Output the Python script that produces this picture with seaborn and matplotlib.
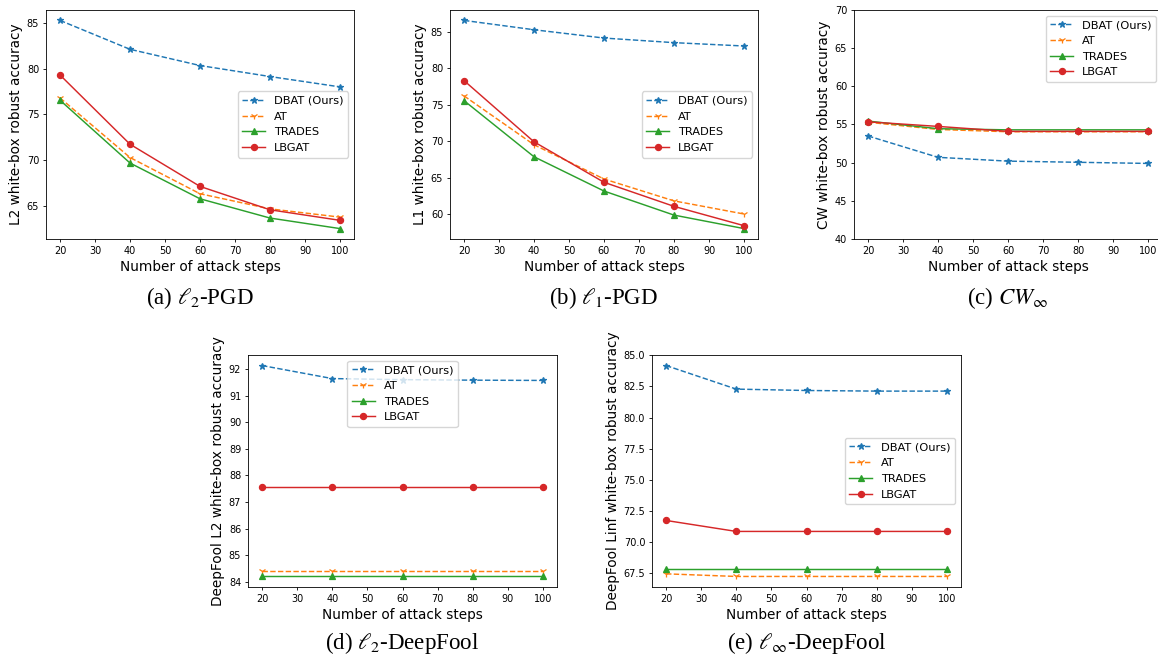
import matplotlib
matplotlib.use("Agg")
import matplotlib.pyplot as plt
from matplotlib.ticker import MultipleLocator
import pandas as pd
import seaborn as sns

# ---------------- data ----------------
steps = [20, 40, 60, 80, 100]
methods = ["DBAT (Ours)", "AT", "TRADES", "LBGAT"]

# (a) L2-PGD
l2pgd_dbat = [85.25, 82.1, 80.33, 79.13, 78.0]
l2pgd_at = [76.8, 70.3, 66.35, 64.7, 63.8]
l2pgd_trades = [76.55, 69.7, 65.8, 63.7, 62.55]
l2pgd_lbgat = [79.3, 71.75, 67.15, 64.6, 63.45]

# (b) L1-PGD
l1pgd_dbat = [86.55, 85.27, 84.13, 83.5, 83.04]
l1pgd_at = [76.2, 69.5, 64.8, 61.8, 60.0]
l1pgd_trades = [75.55, 67.85, 63.15, 59.85, 58.0]
l1pgd_lbgat = [78.3, 69.9, 64.35, 61.05, 58.4]

# (c) CW-inf
cw_dbat = [53.5, 50.7, 50.2, 50.05, 49.9]
cw_at = [55.3, 54.35, 54.05, 54.05, 54.05]
cw_trades = [55.45, 54.45, 54.3, 54.3, 54.3]
cw_lbgat = [55.35, 54.75, 54.1, 54.1, 54.1]

# (d) L2-DeepFool
dfl2_dbat = [92.13, 91.64, 91.6, 91.58, 91.57]
dfl2_at = [84.42, 84.42, 84.42, 84.42, 84.42]
dfl2_trades = [84.2, 84.2, 84.2, 84.2, 84.2]
dfl2_lbgat = [87.56, 87.56, 87.56, 87.56, 87.56]

# (e) Linf-DeepFool
dfinf_dbat = [84.17, 82.28, 82.17, 82.12, 82.12]
dfinf_at = [67.47, 67.26, 67.26, 67.26, 67.26]
dfinf_trades = [67.82, 67.82, 67.82, 67.82, 67.82]
dfinf_lbgat = [71.75, 70.87, 70.87, 70.87, 70.87]

ylabels = [
    "L2 white-box robust accuracy",
    "L1 white-box robust accuracy",
    "CW white-box robust accuracy",
    "DeepFool L2 white-box robust accuracy",
    "DeepFool Linf white-box robust accuracy",
]
captions = [
    r"(a) $\ell_2$-PGD",
    r"(b) $\ell_1$-PGD",
    r"(c) $CW_\infty$",
    r"(d) $\ell_2$-DeepFool",
    r"(e) $\ell_\infty$-DeepFool",
]
panels = [
    [l2pgd_dbat, l2pgd_at, l2pgd_trades, l2pgd_lbgat],
    [l1pgd_dbat, l1pgd_at, l1pgd_trades, l1pgd_lbgat],
    [cw_dbat, cw_at, cw_trades, cw_lbgat],
    [dfl2_dbat, dfl2_at, dfl2_trades, dfl2_lbgat],
    [dfinf_dbat, dfinf_at, dfinf_trades, dfinf_lbgat],
]

# ---------------- style ----------------
plt.rcParams.update({
    "font.family": ["DejaVu Sans"],
    "mathtext.fontset": "stix",
    "axes.linewidth": 0.6,
    "xtick.major.width": 0.6,
    "ytick.major.width": 0.6,
    "xtick.major.size": 2.5,
    "ytick.major.size": 2.5,
    "xtick.major.pad": 2.4,
    "ytick.major.pad": 2.4,
    "xtick.labelsize": 7,
    "ytick.labelsize": 7,
    "axes.labelsize": 9.8,
    "axes.labelpad": 2.8,
    "legend.fontsize": 8.2,
})

palette = sns.color_palette("tab10")
styles = {
    "DBAT (Ours)": dict(color=palette[0], linestyle="--", marker="*", markersize=5.0),
    "AT": dict(color=palette[1], linestyle="--", marker="1", markersize=5.0),
    "TRADES": dict(color=palette[2], linestyle="-", marker="^", markersize=4.4),
    "LBGAT": dict(color=palette[3], linestyle="-", marker="o", markersize=4.4),
}

W, H = 1158, 659
fig = plt.figure(figsize=(W / 100, H / 100), dpi=100)

# axes boxes in pixels: (left, top, right, bottom)
boxes = [
    (46, 10, 354, 239),
    (450, 10, 758, 239),
    (854, 10, 1162, 239),
    (248, 355, 557, 587),
    (652, 355, 961, 587),
]
caption_y = [298, 298, 298, 643, 643]
legend_loc = ["center right", "center right", "upper right", "upper center", "center right"]
ylocs = [5, 5, 5, 1, 2.5]

for i, (box, series) in enumerate(zip(boxes, panels)):
    l, t, r, b = box
    ax = fig.add_axes([l / W, 1 - b / H, (r - l) / W, (b - t) / H])
    df = pd.DataFrame({"steps": steps * len(methods),
                       "acc": sum(series, []),
                       "method": [m for m in methods for _ in steps]})
    for m in methods:
        st = styles[m]
        sub = df[df["method"] == m]
        sns.lineplot(data=sub, x="steps", y="acc", ax=ax, label=m,
                     color=st["color"], linestyle=st["linestyle"],
                     marker=st["marker"], markersize=st["markersize"],
                     markeredgecolor=st["color"], markeredgewidth=0.9,
                     linewidth=1.05)
    ax.set_xlabel("Number of attack steps")
    ax.set_ylabel(ylabels[i])
    ax.xaxis.set_major_locator(MultipleLocator(10))
    ax.yaxis.set_major_locator(MultipleLocator(ylocs[i]))
    if i == 2:
        ax.set_ylim(40, 70)
    ax.legend(loc=legend_loc[i])
    fig.text((l + r) / 2 / W, 1 - caption_y[i] / H, captions[i],
             ha="center", va="center", fontsize=16.5,
             family=["Liberation Serif", "DejaVu Serif"])

fig.savefig("out.png", dpi=100)
